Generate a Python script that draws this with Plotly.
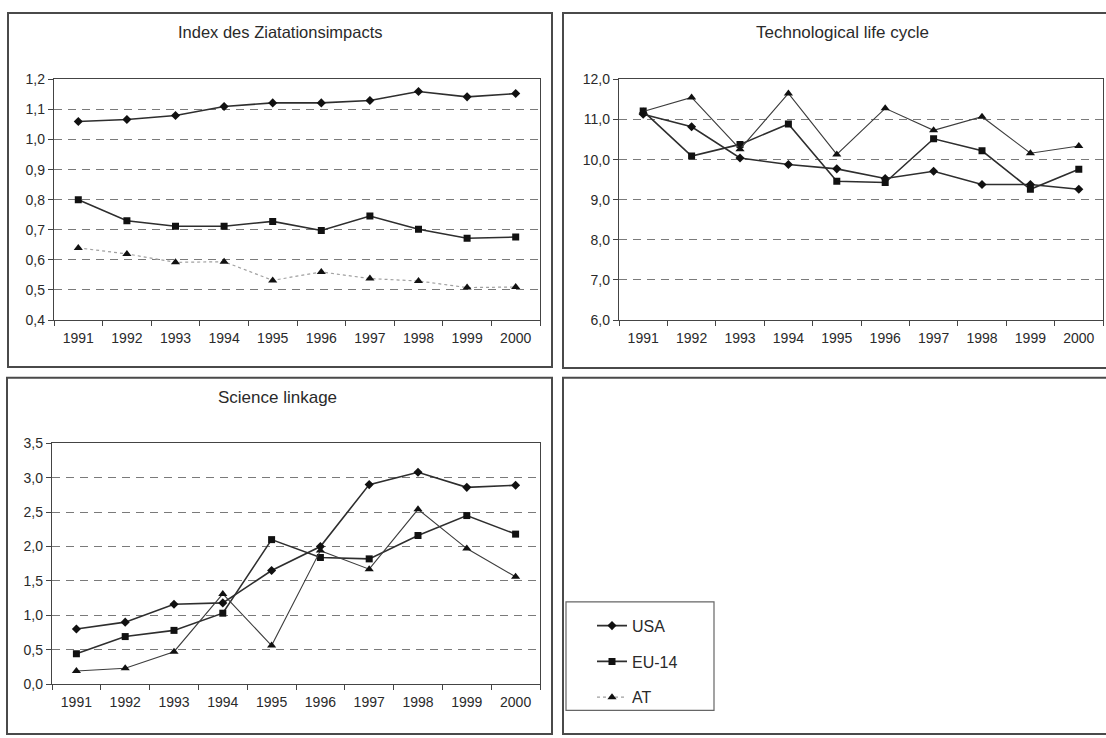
import plotly.graph_objects as go

W, H = 1106, 738

years = ["1991", "1992", "1993", "1994", "1995", "1996", "1997", "1998", "1999", "2000"]
series_names = ["USA", "EU-14", "AT"]

# Index des Ziatationsimpacts
cit_usa = [1.060, 1.067, 1.080, 1.110, 1.122, 1.122, 1.130, 1.160, 1.142, 1.153]
cit_eu = [0.800, 0.730, 0.712, 0.712, 0.728, 0.698, 0.746, 0.702, 0.672, 0.676]
cit_at = [0.640, 0.620, 0.592, 0.594, 0.532, 0.560, 0.538, 0.530, 0.508, 0.510]

# Technological life cycle
tlc_usa = [11.13, 10.82, 10.04, 9.88, 9.77, 9.53, 9.71, 9.38, 9.38, 9.26]
tlc_eu = [11.21, 10.09, 10.38, 10.89, 9.46, 9.43, 10.52, 10.22, 9.26, 9.76]
tlc_at = [11.20, 11.55, 10.26, 11.65, 10.13, 11.28, 10.73, 11.07, 10.16, 10.34]

# Science linkage
sl_usa = [0.80, 0.90, 1.16, 1.18, 1.65, 2.00, 2.90, 3.08, 2.86, 2.89]
sl_eu = [0.44, 0.69, 0.78, 1.03, 2.10, 1.84, 1.82, 2.16, 2.45, 2.18]
sl_at = [0.19, 0.23, 0.47, 1.31, 0.56, 1.94, 1.67, 2.54, 1.97, 1.56]

titles = ["Index des Ziatationsimpacts", "Technological life cycle", "Science linkage"]

FONT = "Liberation Sans, Arial, sans-serif"
DARK = "#2e2e2e"
TXT = "#2a2a2a"


def px_x(v):
    return v / W


def px_y(v):
    return 1 - v / H


fig = go.Figure()

panels = [
    dict(data=[cit_usa, cit_eu, cit_at], xa="x", ya="y", rng=[0.4, 1.2], dt=0.1, legend=True,
         at_style=dict(color="#a0a0a0", width=1.2, dash="dot")),
    dict(data=[tlc_usa, tlc_eu, tlc_at], xa="x2", ya="y2", rng=[6.0, 12.0], dt=1.0, legend=False,
         at_style=dict(color="#3c3c3c", width=1.1)),
    dict(data=[sl_usa, sl_eu, sl_at], xa="x3", ya="y3", rng=[0.0, 3.5], dt=0.5, legend=False,
         at_style=dict(color="#3c3c3c", width=1.1)),
]

line_styles = [
    dict(color=DARK, width=1.6),
    dict(color=DARK, width=1.6),
    None,
]
markers = [
    dict(symbol="diamond", size=7, color="#111"),
    dict(symbol="square", size=7, color="#111"),
    dict(symbol="triangle-up", size=8, color="#111"),
]

for p in panels:
    for i, name in enumerate(series_names):
        ls = line_styles[i] if line_styles[i] is not None else p["at_style"]
        fig.add_trace(go.Scatter(
            x=years, y=p["data"][i], name=name, mode="lines+markers",
            line=ls, marker=markers[i], xaxis=p["xa"], yaxis=p["ya"],
            showlegend=p["legend"], legendgroup=name,
        ))

# plot-area pixel boxes: (left, right, top, bottom)
boxes = [(54, 540, 73, 319), (619, 1103, 73, 319), (52, 540, 445, 691)]

axis_common_x = dict(
    type="category", tickson="boundaries", ticks="outside", ticklen=5, tickcolor="#444",
    showline=True, linecolor="#444", linewidth=1.3, mirror=True, showgrid=False,
    tickfont=dict(family=FONT, size=14, color=TXT), range=[-0.5, 9.5], fixedrange=True,
    ticklabelstandoff=5,
)
axis_common_y = dict(
    ticks="outside", ticklen=5, tickcolor="#444", showline=True, linecolor="#444", linewidth=1.3,
    mirror=True, showgrid=True, gridcolor="#7a7a7a", griddash="8px,6px", gridwidth=1,
    tickformat=".1f", tickfont=dict(family=FONT, size=14, color=TXT), zeroline=False,
    fixedrange=True,
)

layout_axes = {}
for k, (p, b) in enumerate(zip(panels, boxes)):
    suffix = "" if k == 0 else str(k + 1)
    l, r, t, bt = b
    layout_axes["xaxis" + suffix] = dict(axis_common_x, domain=[px_x(l), px_x(r)],
                                         anchor="y" + suffix)
    layout_axes["yaxis" + suffix] = dict(axis_common_y, domain=[px_y(bt), px_y(t)],
                                         anchor="x" + suffix, range=p["rng"], dtick=p["dt"],
                                         tick0=p["rng"][0])

fig.update_layout(**layout_axes)

# panel frames
frames = [(8, 552, 5, 367), (563, 1112, 5, 368), (7, 552, 378, 742), (563, 1112, 378, 742)]
shapes = []
for (l, r, t, b) in frames:
    shapes.append(dict(type="rect", xref="paper", yref="paper", x0=px_x(l), x1=px_x(r),
                       y0=px_y(b), y1=px_y(t), line=dict(color="#4a4a4a", width=2)))
# legend frame
shapes.append(dict(type="rect", xref="paper", yref="paper", x0=px_x(566), x1=px_x(714),
                   y0=px_y(718), y1=px_y(607), line=dict(color="#666", width=1.2)))

title_pos = [(280, 25, 16.5), (842, 25, 17), (277, 398, 17)]
annotations = []
for txt, (x, y, fs) in zip(titles, title_pos):
    annotations.append(dict(text=txt, x=px_x(x), y=px_y(y), xref="paper", yref="paper",
                            showarrow=False, xanchor="center", yanchor="middle",
                            font=dict(family=FONT, size=fs, color=TXT)))

fig.update_layout(
    width=W, height=H, margin=dict(l=0, r=0, t=0, b=0),
    paper_bgcolor="white", plot_bgcolor="white",
    separators=",.",
    shapes=shapes, annotations=annotations,
    showlegend=True,
    legend=dict(x=px_x(592), y=px_y(614), xanchor="left", yanchor="top",
                bgcolor="rgba(0,0,0,0)", borderwidth=0, tracegroupgap=12,
                font=dict(family=FONT, size=16, color=TXT)),
    font=dict(family=FONT),
)

fig.write_html("out.html", config={"displayModeBar": False},
               post_script="document.body.style.margin='0';document.body.style.overflow='hidden';")
